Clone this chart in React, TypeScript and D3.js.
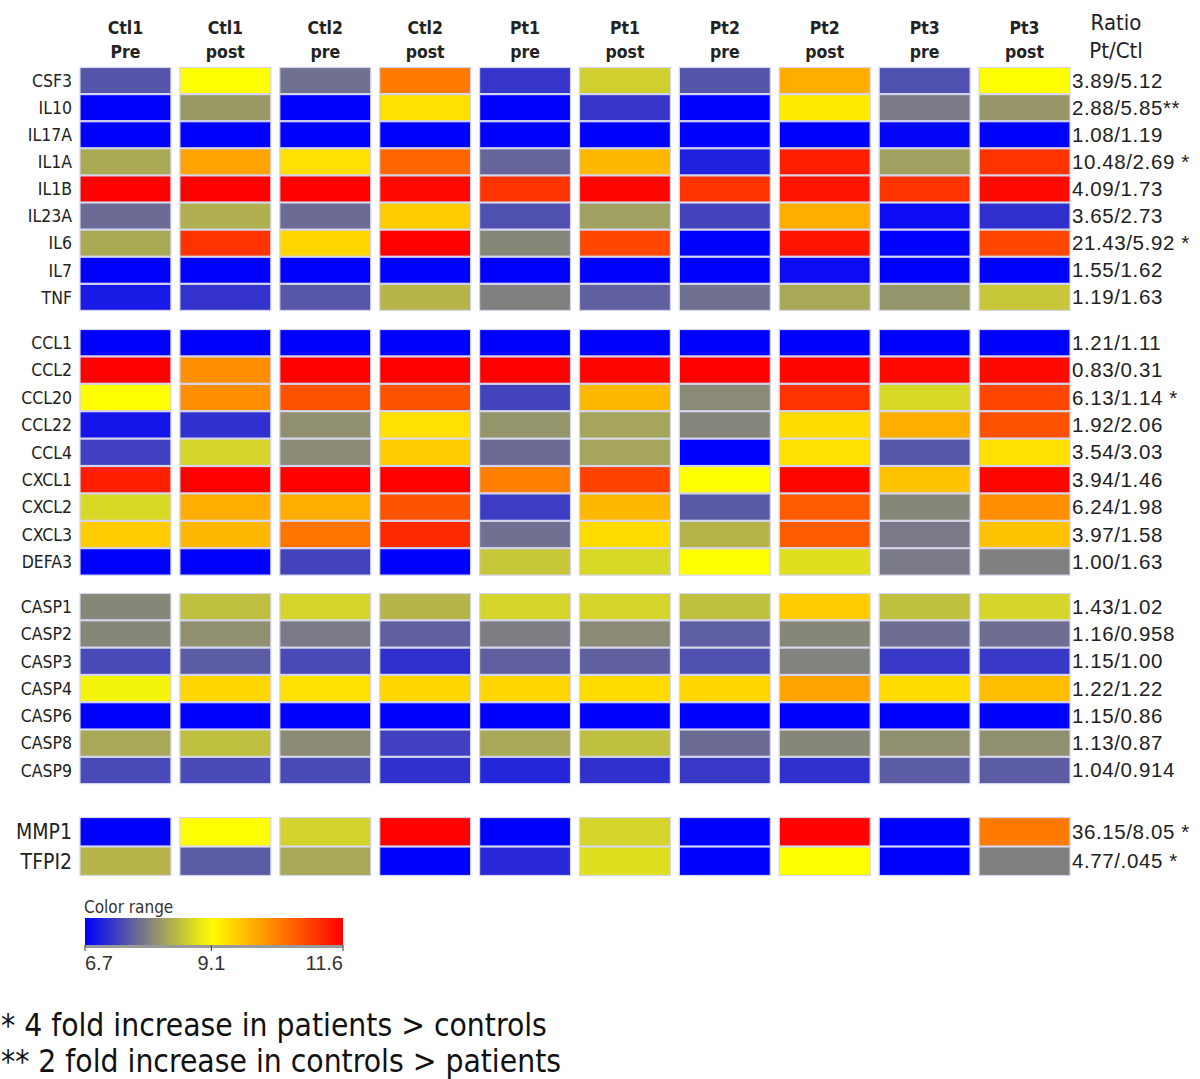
import React from "react";
import * as d3 from "d3";

const colTop = ["Ctl1", "Ctl1", "Ctl2", "Ctl2", "Pt1", "Pt1", "Pt2", "Pt2", "Pt3", "Pt3"];
const colBottom = ["Pre", "post", "pre", "post", "pre", "post", "pre", "post", "pre", "post"];

const genesCyto = ["CSF3", "IL10", "IL17A", "IL1A", "IL1B", "IL23A", "IL6", "IL7", "TNF"];
const valuesCyto = [
  [7.5, 9.1, 7.75, 10.4, 7.2, 8.65, 7.5, 9.9, 7.45, 9.1],
  [6.7, 8.14, 6.7, 9.4, 6.7, 7.2, 6.7, 9.3, 7.83, 8.12],
  [6.7, 6.7, 6.7, 6.7, 6.7, 6.7, 6.7, 6.7, 6.75, 6.7],
  [8.3, 10.0, 9.4, 10.6, 7.65, 9.8, 7.0, 11.3, 8.2, 11.1],
  [11.6, 11.6, 11.6, 11.5, 11.1, 11.55, 11.1, 11.4, 11.1, 11.5],
  [7.7, 8.35, 7.7, 9.6, 7.45, 8.2, 7.33, 9.9, 6.8, 7.15],
  [8.3, 11.1, 9.5, 11.6, 7.97, 10.9, 6.7, 11.4, 6.72, 10.9],
  [6.7, 6.7, 6.7, 6.7, 6.7, 6.7, 6.7, 6.8, 6.7, 6.7],
  [6.94, 7.18, 7.52, 8.4, 7.9, 7.6, 7.75, 8.28, 8.1, 8.57],
];
const ratiosCyto = ["3.89/5.12", "2.88/5.85**", "1.08/1.19", "10.48/2.69 *", "4.09/1.73", "3.65/2.73", "21.43/5.92 *", "1.55/1.62", "1.19/1.63"];

const genesChemo = ["CCL1", "CCL2", "CCL20", "CCL22", "CCL4", "CXCL1", "CXCL2", "CXCL3", "DEFA3"];
const valuesChemo = [
  [6.7, 6.7, 6.7, 6.7, 6.7, 6.7, 6.7, 6.7, 6.7, 6.7],
  [11.6, 10.2, 11.6, 11.6, 11.6, 11.55, 11.6, 11.55, 11.5, 11.5],
  [9.1, 10.2, 10.8, 10.8, 7.33, 9.8, 7.99, 11.1, 8.73, 10.9],
  [6.9, 7.15, 8.05, 9.4, 8.1, 8.25, 7.95, 9.45, 9.9, 10.8],
  [7.3, 8.7, 8.0, 9.6, 7.7, 8.25, 6.7, 9.4, 7.52, 9.4],
  [11.3, 11.6, 11.6, 11.6, 10.35, 10.95, 9.1, 11.55, 9.7, 11.55],
  [8.73, 9.9, 9.9, 10.8, 7.27, 9.8, 7.54, 10.7, 7.97, 10.2],
  [9.6, 9.8, 10.45, 11.2, 7.75, 9.45, 8.4, 10.7, 7.83, 9.7],
  [6.7, 6.7, 7.33, 6.7, 8.57, 8.73, 9.1, 8.8, 7.83, 7.9],
];
const ratiosChemo = ["1.21/1.11", "0.83/0.31", "6.13/1.14 *", "1.92/2.06", "3.54/3.03", "3.94/1.46", "6.24/1.98", "3.97/1.58", "1.00/1.63"];

const genesCasp = ["CASP1", "CASP2", "CASP3", "CASP4", "CASP6", "CASP8", "CASP9"];
const valuesCasp = [
  [7.97, 8.5, 8.7, 8.4, 8.7, 8.7, 8.5, 9.6, 8.5, 8.7],
  [7.97, 8.05, 7.83, 7.6, 7.87, 8.0, 7.58, 7.97, 7.73, 7.73],
  [7.38, 7.56, 7.38, 7.15, 7.6, 7.6, 7.45, 7.92, 7.23, 7.23],
  [9.0, 9.5, 9.4, 9.5, 9.5, 9.45, 9.5, 10.0, 9.45, 9.75],
  [6.7, 6.7, 6.7, 6.7, 6.7, 6.7, 6.7, 6.7, 6.7, 6.7],
  [8.28, 8.5, 8.0, 7.3, 8.28, 8.5, 7.7, 7.97, 8.05, 8.05],
  [7.38, 7.38, 7.38, 7.15, 7.05, 7.15, 7.23, 7.15, 7.56, 7.56],
];
const ratiosCasp = ["1.43/1.02", "1.16/0.958", "1.15/1.00", "1.22/1.22", "1.15/0.86", "1.13/0.87", "1.04/0.914"];

const genesOther = ["MMP1", "TFPI2"];
const valuesOther = [
  [6.7, 9.1, 8.68, 11.6, 6.7, 8.7, 6.7, 11.6, 6.7, 10.4],
  [8.4, 7.56, 8.28, 6.7, 7.08, 8.8, 6.7, 9.1, 6.7, 7.9],
];
const ratiosOther = ["36.15/8.05 *", "4.77/.045 *"];

const colorStops = [6.7, 7.9, 9.1, 11.6];
const colorRange = ["#0000ff", "#808080", "#ffff00", "#ff0000"];
const legendTicks = [6.7, 9.1, 11.6];
const footnotes = ["* 4 fold increase in patients > controls", "** 2 fold increase in controls > patients"];

const groups = [
  { genes: genesCyto, values: valuesCyto, ratios: ratiosCyto, top: 67, rowH: 27.1, labelSize: 17.5 },
  { genes: genesChemo, values: valuesChemo, ratios: ratiosChemo, top: 329, rowH: 27.4, labelSize: 17.5 },
  { genes: genesCasp, values: valuesCasp, ratios: ratiosCasp, top: 593, rowH: 27.3, labelSize: 17.5 },
  { genes: genesOther, values: valuesOther, ratios: ratiosOther, top: 817, rowH: 29.5, labelSize: 21 },
];

const FONT = "'DejaVu Sans Condensed', 'DejaVu Sans', sans-serif";
const ARIAL = "'Liberation Sans', Arial, sans-serif";

export default function App() {
  const color = d3.scaleLinear<string>().domain(colorStops).range(colorRange).interpolate(d3.interpolateRgb);
  const x = d3.scaleBand<number>().domain(d3.range(colTop.length)).range([80, 1070]).paddingInner(0.09);
  const legendX = d3.scaleLinear().domain([6.7, 11.6]).range([85, 343]);
  const gradStops = d3.range(0, 1.0001, 0.05).map((t) => {
    const v = 6.7 + t * 4.9;
    return { offset: t, c: color(v) };
  });

  return (
    <svg width={1200} height={1079} style={{ position: "absolute", left: 0, top: 0, background: "#fff" }}>
      <defs>
        <linearGradient id="lg" x1="0" x2="1" y1="0" y2="0">
          {gradStops.map((s, i) => (
            <stop key={i} offset={s.offset} stopColor={s.c} />
          ))}
        </linearGradient>
      </defs>

      {colTop.map((t, i) => {
        const cx = (x(i) as number) + x.bandwidth() / 2;
        return (
          <text key={"h" + i} textAnchor="middle" fontFamily={FONT} fontWeight="bold" fontSize={17.5} fill="#222">
            <tspan x={cx} y={34}>{t}</tspan>
            <tspan x={cx} y={58}>{colBottom[i]}</tspan>
          </text>
        );
      })}
      <text x={1116} y={30} textAnchor="middle" fontFamily={FONT} fontSize={22} fill="#222">Ratio</text>
      <text x={1116} y={58} textAnchor="middle" fontFamily={FONT} fontSize={22} fill="#222">Pt/Ctl</text>

      {groups.map((g, gi) => {
        const y = d3.scaleBand<number>().domain(d3.range(g.genes.length)).range([g.top, g.top + g.rowH * g.genes.length]);
        return (
          <g key={"g" + gi}>
            {g.values.map((row, ri) =>
              row.map((v, ci) => (
                <rect
                  key={ri + "-" + ci}
                  x={x(ci)}
                  y={(y(ri) as number) + 0.5}
                  width={x.bandwidth()}
                  height={y.bandwidth() - 1}
                  fill={color(v)}
                  stroke="#d4d4ec"
                  strokeWidth={1.2}
                />
              ))
            )}
            {g.genes.map((name, ri) => (
              <text
                key={"l" + ri}
                x={72}
                y={(y(ri) as number) + y.bandwidth() / 2 + g.labelSize * 0.36}
                textAnchor="end"
                fontFamily={FONT}
                fontSize={g.labelSize}
                fill="#222"
              >
                {name}
              </text>
            ))}
            {g.ratios.map((r, ri) => (
              <text
                key={"r" + ri}
                x={1072}
                y={(y(ri) as number) + y.bandwidth() / 2 + 7}
                fontFamily={ARIAL}
                fontSize={20.5}
                letterSpacing={0.6}
                fill="#222"
              >
                {r}
              </text>
            ))}
          </g>
        );
      })}

      <text x={84} y={913} fontFamily={FONT} fontSize={17} fill="#333">Color range</text>
      <rect x={legendX(6.7)} y={918} width={legendX(11.6) - legendX(6.7)} height={27} fill="url(#lg)" />
      <rect x={legendX(6.7)} y={945} width={legendX(11.6) - legendX(6.7)} height={3} fill="#999" />
      {legendTicks.map((t, i) => (
        <g key={"t" + i}>
          <line x1={legendX(t)} x2={legendX(t)} y1={945} y2={951} stroke="#555" strokeWidth={1.2} />
          <text
            x={legendX(t)}
            y={970}
            textAnchor={i === 0 ? "start" : i === legendTicks.length - 1 ? "end" : "middle"}
            fontFamily={ARIAL}
            fontSize={20}
            fill="#333"
          >
            {t.toFixed(1)}
          </text>
        </g>
      ))}

      {footnotes.map((f, i) => (
        <text key={"f" + i} x={1} y={1036 + i * 36} fontFamily={FONT} fontSize={31.5} fill="#111">
          {f}
        </text>
      ))}
    </svg>
  );
}
